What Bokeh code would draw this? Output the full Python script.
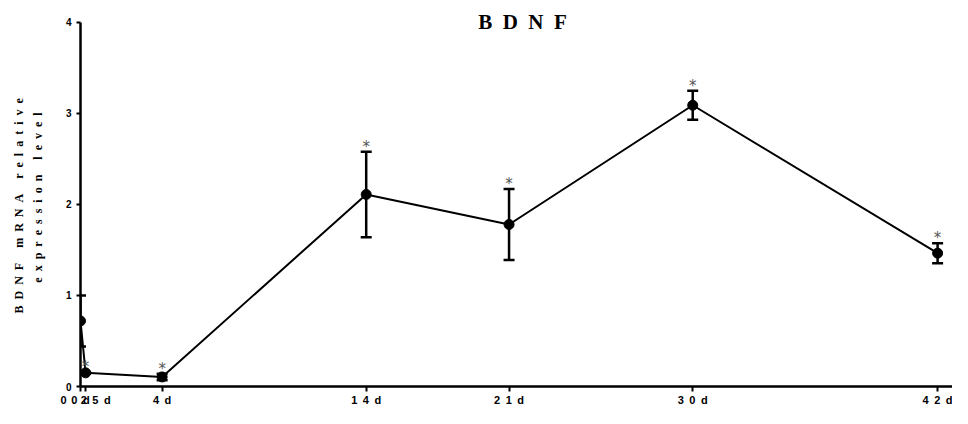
from bokeh.plotting import figure
from bokeh.models import (ColumnDataSource, Whisker, TeeHead, Label, Range1d,
                          FixedTicker, Title)
from bokeh.core.properties import value
from bokeh.embed import file_html
from bokeh.resources import INLINE

# ---- data ----
days = [0, 0.25, 4, 14, 21, 30, 42]
tick_labels = ["0d", "0.25d", "4d", "14d", "21d", "30d", "42d"]
mean = [0.72, 0.15, 0.105, 2.11, 1.78, 3.09, 1.465]
sem = [0.28, 0.01, 0.035, 0.47, 0.39, 0.16, 0.11]
significant = [False, True, True, True, True, True, True]
y_ticks = [0, 1, 2, 3, 4]
title_text = "BDNF"
ylabel_line1 = "BDNF mRNA relative"
ylabel_line2 = "expression level"

SP = "\u2002"  # letter spacing helper (en space)


def spaced(s):
    return SP.join(list(s))


upper = [m + s for m, s in zip(mean, sem)]
lower = [m - s for m, s in zip(mean, sem)]

src = ColumnDataSource(dict(x=days, y=mean, upper=upper, lower=lower))
star_src = ColumnDataSource(dict(
    x=[d for d, s in zip(days, significant) if s],
    y=[u for u, s in zip(upper, significant) if s],
    t=["*" for s in significant if s],
))

x_start, x_end = 0, 42.73
y_start, y_end = 0, 4.153
p = figure(width=952, height=408, output_backend="svg", toolbar_location=None,
           x_range=Range1d(x_start, x_end), y_range=Range1d(y_start, y_end),
           min_border_left=80, min_border_right=0, min_border_top=8, min_border_bottom=20)
p.outline_line_color = None
p.xgrid.visible = False
p.ygrid.visible = False
p.background_fill_color = "white"
p.border_fill_color = "white"

# axes
p.xaxis.ticker = FixedTicker(ticks=days)
p.xaxis.major_label_overrides = {d: spaced(l) for d, l in zip(days, tick_labels)}
p.xaxis.axis_line_width = 2.5
p.xaxis.major_tick_line_width = 2
p.xaxis.major_tick_out = 5
p.xaxis.major_tick_in = 0
p.xaxis.minor_tick_line_color = None
p.xaxis.major_label_standoff = 2
p.xaxis.major_label_text_font = "Liberation Sans"
p.xaxis.major_label_text_font_style = "bold"
p.xaxis.major_label_text_font_size = "11px"
p.xaxis.major_label_text_color = "black"

yax = p.yaxis[0]
yax.ticker = FixedTicker(ticks=y_ticks)
yax.bounds = (0, 4)
yax.axis_line_width = 2.5
yax.major_tick_line_width = 2
yax.major_tick_out = 4
yax.major_tick_in = 0
yax.minor_tick_line_color = None
yax.major_label_standoff = 5
yax.major_label_text_font = "Liberation Sans"
yax.major_label_text_font_style = "bold"
yax.major_label_text_font_size = "10px"
yax.major_label_text_color = "black"
yax.axis_label = spaced(ylabel_line2)
yax.axis_label_standoff = 18
yax.axis_label_text_font = "Liberation Serif"
yax.axis_label_text_font_style = "bold"
yax.axis_label_text_font_size = "12px"
yax.axis_label_text_color = "black"

# outer line of the y label as a left-side title
p.add_layout(Title(text=spaced(ylabel_line1), align="left", offset=73, standoff=4,
                   text_font="Liberation Serif", text_font_style="bold",
                   text_font_size="12px", text_color="black"), "left")

# error bars
p.add_layout(Whisker(source=src, base="x", upper="upper", lower="lower",
                     line_color="black", line_width=2.5,
                     upper_head=TeeHead(size=11, line_width=2.5, line_color="black"),
                     lower_head=TeeHead(size=11, line_width=2.5, line_color="black")))

# line + markers
p.line("x", "y", source=src, line_color="black", line_width=2)
p.scatter("x", "y", source=src, size=10, fill_color="black", line_color="black")

# significance stars
p.text("x", "y", text="t", source=star_src, text_align="center", text_baseline="alphabetic",
       y_offset=-5, text_font=value("DejaVu Sans"), text_font_size="15px",
       text_color="#555555")

# title
p.add_layout(Label(x=(x_start + x_end) / 2, y=4.0, x_offset=6, text=SP.join(list(title_text)),
                   text_align="center", text_baseline="middle",
                   text_font="Liberation Serif", text_font_style="bold",
                   text_font_size="21px", text_color="black"))

open("out.html", "w").write(file_html(p, INLINE))
